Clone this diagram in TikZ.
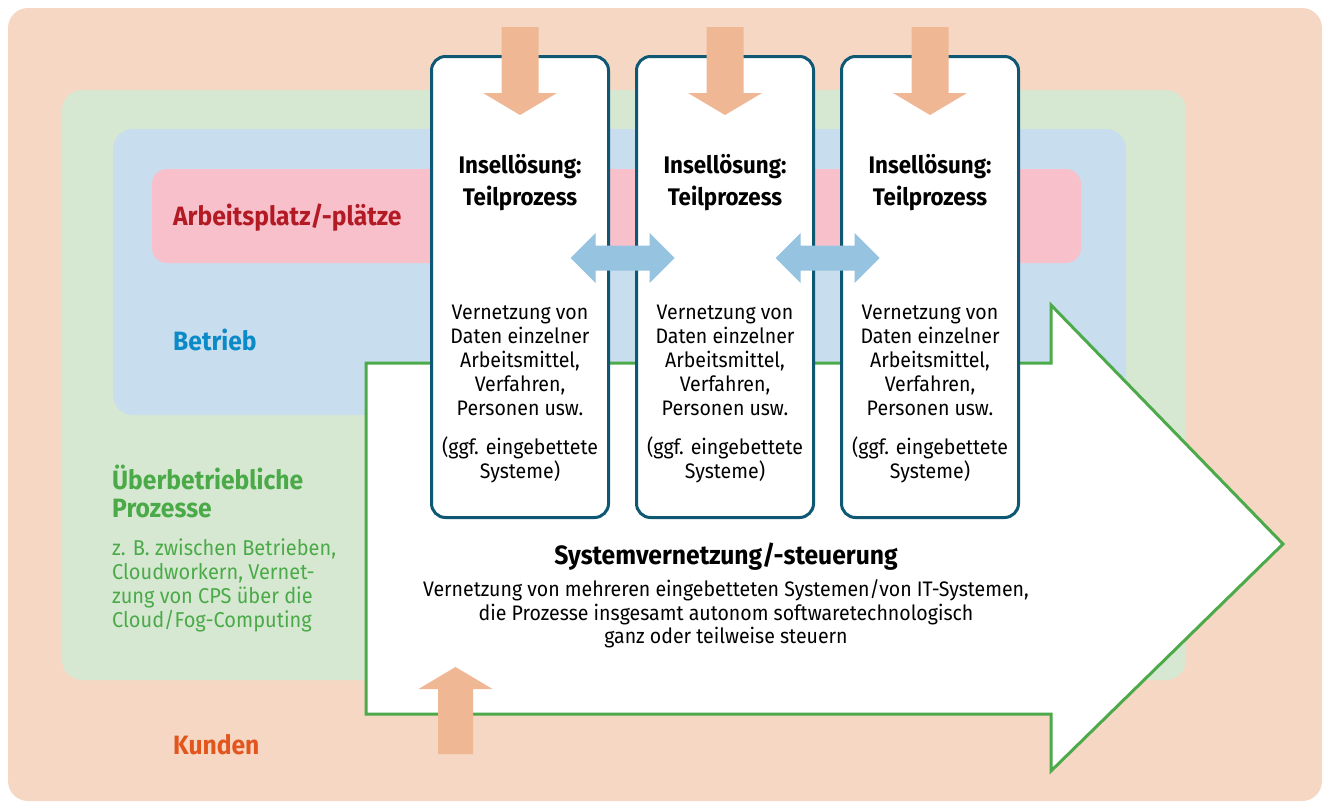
\documentclass[tikz,border=0pt]{standalone}
\usepackage{fontspec}
\usetikzlibrary{calc}
\setmainfont{Fira Sans}[FakeStretch=0.93]
\definecolor{peachbg}{HTML}{F6D7C3}
\definecolor{greenbg}{HTML}{D7E8D2}
\definecolor{bluebg}{HTML}{C8DDEE}
\definecolor{pinkbg}{HTML}{F8C0CB}
\definecolor{boxline}{HTML}{0E5874}
\definecolor{peacharrow}{HTML}{F0B795}
\definecolor{bluearrow}{HTML}{96C3E0}
\definecolor{greenline}{HTML}{4DAA4A}
\definecolor{redtext}{HTML}{B31B24}
\definecolor{bluetext}{HTML}{0A8AC6}
\definecolor{greentext}{HTML}{4AAA48}
\definecolor{orangetext}{HTML}{E2561E}
\tikzset{
  islandbox/.style={draw=boxline, line width=3pt, fill=white, rounded corners=14pt,
    minimum width=177pt, minimum height=461pt, inner sep=0pt},
  titletext/.style={align=center, inner sep=0pt, font=\bfseries\fontsize{24}{32}\selectfont},
  bodytext/.style={align=center, inner sep=0pt, font=\fontsize{21}{24}\selectfont},
  lefttitle/.style={anchor=west, inner sep=0pt, font=\bfseries\fontsize{26.5}{27.5}\selectfont},
  peachfill/.style={fill=peacharrow},
  bluefill/.style={fill=bluearrow},
}
\begin{document}
\begin{tikzpicture}[x=1pt,y=-1pt]
\useasboundingbox (0,0) rectangle (1324,803);
% backgrounds
\fill[peachbg, rounded corners=20pt] (8,8) rectangle (1322,801);
\fill[greenbg, rounded corners=20pt] (62,90) rectangle (1186,680);
\fill[bluebg, rounded corners=20pt] (113,129) rectangle (1126,415);
\fill[pinkbg, rounded corners=15pt] (152,169) rectangle (1081,263);
% big arrow
\draw[greenline, line width=3pt, fill=white, line join=miter]
  (366,363) -- (1051,363) -- (1051,305) -- (1283,544) -- (1051,771) -- (1051,714) -- (366,714) -- cycle;
% boxes
\node[islandbox] (b1) at (520,287) {};
\node[islandbox] (b2) at (725,287) {};
\node[islandbox] (b3) at (930,287) {};
% top arrows
\foreach \b in {b1,b2,b3}{
  \fill[peachfill] (\b.north) ++(-18.5,-28) -- ++(37,0) -- ++(0,66) -- ++(18.5,0) -- ++(-37,22) -- ++(-37,-22) -- ++(18.5,0) -- cycle;
}
% double arrows
\coordinate (d1) at ($(b1.east)!0.5!(b2.west)+(0,-29)$);
\coordinate (d2) at ($(b2.east)!0.5!(b3.west)+(0,-29)$);
\foreach \d in {d1,d2}{
  \fill[bluefill] (\d) ++(-52,0) -- ++(25,-25) -- ++(0,12.5) -- ++(54,0) -- ++(0,-12.5) -- ++(25,25)
     -- ++(-25,25) -- ++(0,-12.5) -- ++(-54,0) -- ++(0,12.5) -- cycle;
}
% bottom arrow
\coordinate (ba) at (455.5,754);
\fill[peachfill] (ba) ++(-17.5,0) -- ++(0,-65) -- ++(-19.5,0) -- ++(37,-22) -- ++(37,22) -- ++(-19.5,0) -- ++(0,65) -- cycle;
% box texts
\foreach \b in {b1,b2,b3}{
  \path (\b.north) ++(0,128) node[titletext] (\b t) {Insellösung:\\Teilprozess};
  \path (\b.north) ++(0,305) node[bodytext] (\b v) {Vernetzung von\\Daten einzelner\\Arbeitsmittel,\\Verfahren,\\Personen usw.};
  \path (\b.north) ++(0,405) node[bodytext] (\b g) {(ggf. eingebettete\\Systeme)};
}
% left labels
\node[lefttitle, text=redtext] (arb) at (173,218) {Arbeitsplatz/-plätze};
\node[lefttitle, text=bluetext] (bet) at (173,340) {Betrieb};
\node[lefttitle, text=greentext, align=left] (ueb) at (112,491.5) {Überbetriebliche\\Prozesse};
\node[anchor=west, inner sep=0pt, align=left, text=greentext, font=\fontsize{21.5}{24}\selectfont] (zb) at (112,585)
  {z. B. zwischen Betrieben,\\Cloudworkern, Vernet-\\zung von CPS über die\\Cloud/Fog-Computing};
\node[lefttitle, text=orangetext] (kun) at (173,745) {Kunden};
% system text
\node[inner sep=0pt, font=\bfseries\fontsize{26.5}{28}\selectfont] (sys) at (726,557) {Systemvernetzung/-steuerung};
\node[inner sep=0pt, align=center, font=\fontsize{21}{23.5}\selectfont] (sysd) at (726,614)
  {Vernetzung von mehreren eingebetteten Systemen/von IT-Systemen,\\die Prozesse insgesamt autonom softwaretechnologisch\\ganz oder teilweise steuern};
\end{tikzpicture}
\end{document}
